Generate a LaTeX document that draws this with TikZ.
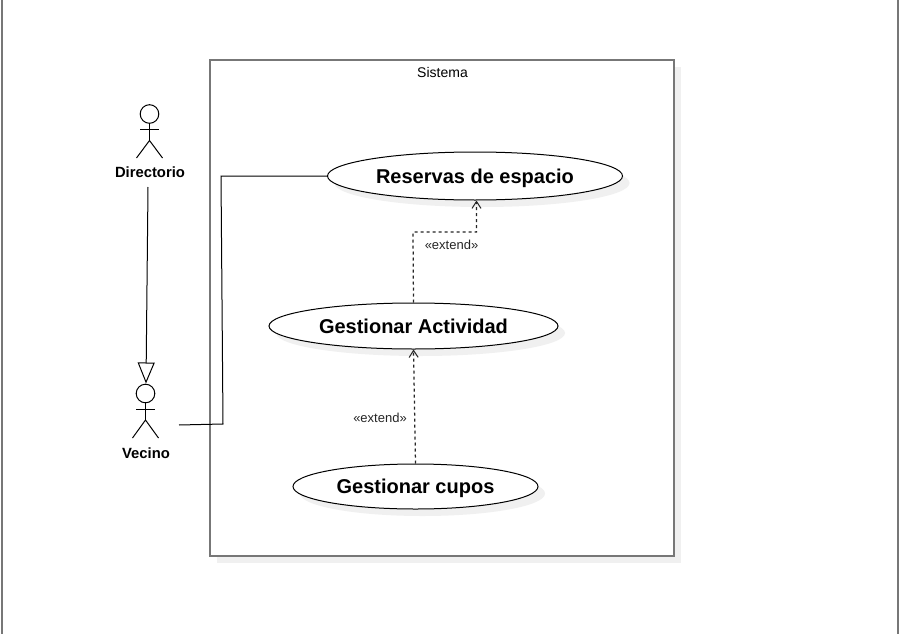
\documentclass[tikz,border=0pt]{standalone}
\usepackage{fontspec}
\setmainfont{Liberation Sans}
\usetikzlibrary{arrows.meta,calc,shapes.geometric}
\definecolor{shadowgray}{HTML}{F0F0F0}
\definecolor{framegray}{HTML}{777777}
\tikzset{
  usecase/.style={ellipse,draw=black,fill=white,line width=1pt,inner sep=0pt,text height=20pt,text depth=5.7pt,font=\fontsize{20}{24}\selectfont\bfseries},
  shadowcase/.style={ellipse,fill=shadowgray,draw=none,inner sep=0pt},
  actorlabel/.style={font=\fontsize{14.8}{17}\selectfont\bfseries,inner sep=0pt},
  stick/.style={draw=black,line width=1pt},
  ext/.style={draw=black!85,line width=1.25pt,dash pattern=on 3pt off 3pt,-{Straight Barb[length=7pt,width=9pt,line width=1pt]}},
  extlabel/.style={font=\fontsize{13}{15}\selectfont,text=black!85,inner sep=0pt},
  frameedge/.style={draw=framegray,line width=2pt},
  assoc/.style={draw=black,line width=1pt},
}
\begin{document}
\begin{tikzpicture}[x=1pt,y=-1pt]
\useasboundingbox (0,0) rectangle (899,634);
\fill[white] (0,0) rectangle (899,634);
% page edges
\draw[draw=framegray,line width=2pt] (2,0) -- (2,634);
\draw[draw=framegray,line width=2pt] (898,0) -- (898,634);
% system frame
\fill[shadowgray] (217,67) rectangle (681,563);
\draw[frameedge,fill=white] (210,60) rectangle (674,556);
\node[font=\fontsize{14}{16}\selectfont,inner sep=0pt] (sys) at (442.5,72.5) {Sistema};
% shadows
\node[shadowcase,minimum width=295pt,minimum height=48pt] at (482,183) {};
\node[shadowcase,minimum width=289pt,minimum height=46pt] at (420.5,333) {};
\node[shadowcase,minimum width=245pt,minimum height=45pt] at (422.5,493.5) {};
% use cases
\node[usecase,minimum width=295pt,minimum height=48pt] (res) at (475,176) {Reservas de espacio};
\node[usecase,minimum width=289pt,minimum height=46pt] (act) at (413.5,326) {Gestionar Actividad};
\node[usecase,minimum width=245pt,minimum height=45pt] (cup) at (415.5,486.5) {Gestionar cupos};
% actor Directorio
\node[circle,stick,minimum size=18.6pt,inner sep=0pt] (dirhead) at (149.5,114) {};
\coordinate (dirhip) at (149.5,140.5);
\draw[stick] (dirhead.south) -- (dirhip);
\draw[stick] (140,129) -- (159,129);
\draw[stick] (136.5,158) -- (dirhip) -- (162.5,158);
\node[actorlabel] (dir) at (150,172.5) {Directorio};
% actor Vecino
\node[circle,stick,minimum size=18.6pt,inner sep=0pt] (vechead) at (145.5,393.5) {};
\coordinate (vechip) at (145.5,420);
\draw[stick] (vechead.south) -- (vechip);
\draw[stick] (136,409) -- (155,409);
\draw[stick] (132.5,438) -- (vechip) -- (158.5,438);
\node[actorlabel] (vec) at (146,453) {Vecino};
% generalisation
\coordinate (dirout) at (148,187);
\coordinate (vecin) at (146,383.5);
\draw[draw=black,line width=1pt,-{Triangle[open,length=21pt,width=17pt,line width=1pt,fill=white]}] (dirout) -- (vecin);
% association
\coordinate (vecout) at (179,425);
\coordinate (b1) at (223,424);
\coordinate (b2) at (221,176);
\draw[assoc] (vecout) -- (b1) -- (b2) -- (res.west);
% extends
\coordinate (e1) at (413,232);
\coordinate (e2) at (476.5,232);
\draw[ext] (act.north) -- (e1) -- (e2) -- (e2 |- res.south);
\node[extlabel] (l1) at (451.5,245) {«extend»};
\draw[ext] (cup.north) -- (act.south);
\node[extlabel] (l2) at (380,418) {«extend»};
\end{tikzpicture}
\end{document}
